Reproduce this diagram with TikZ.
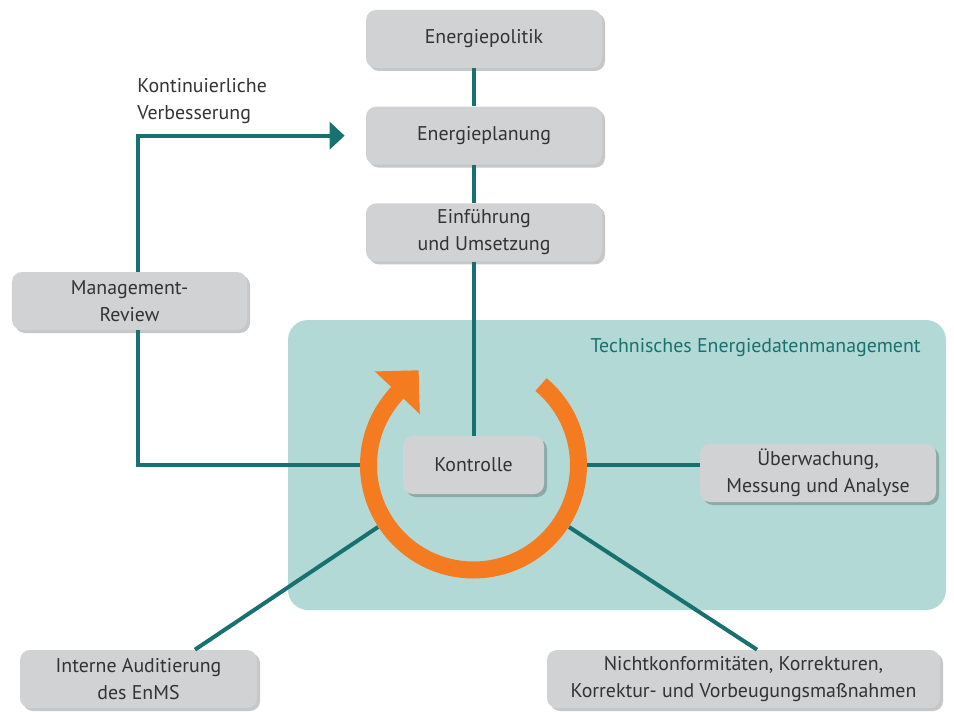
\documentclass[tikz,border=0pt]{standalone}
\usepackage{fontspec}
\setmainfont{PT Sans}
\usepackage{tikz}
\usetikzlibrary{arrows.meta}
\usetikzlibrary{positioning,shadows}

\definecolor{boxgray}{HTML}{D1D2D4}
\definecolor{enteal}{HTML}{17726F}
\definecolor{bgteal}{HTML}{B3D9D6}
\definecolor{ringorange}{HTML}{F47B20}
\definecolor{txtgray}{HTML}{333333}

\begin{document}
\begin{tikzpicture}[
		node distance=0.76cm,
		font=\fontsize{11.3}{15.3}\selectfont,
		text=txtgray,
		Box/.style = {rectangle, rounded corners=0.2cm, fill=boxgray,% grey boxes with soft shadow
			minimum width=4.72cm, minimum height=1.16cm,
			align=center, inner sep=2pt,
			drop shadow={shadow xshift=0.06cm, shadow yshift=-0.06cm,
				fill=black, opacity=0.22}},
		L/.style = {draw=enteal, line width=0.08cm},% teal connectors
		R/.style = {draw=ringorange, line width=0.34cm,
			-{Triangle[length=0.62cm, width=1.2cm]}},
		]
		\useasboundingbox (0,0) rectangle (19.08,14.22);
		% technical area
		\fill[bgteal, rounded corners=0.4cm] (5.76,2.02) rectangle (18.92,7.82);
		\node (tem) [anchor=east, text=enteal, inner sep=0pt] at (18.42,7.26) {Technisches Energiedatenmanagement};
		% boxes
		\node (pol) [Box] at (9.68,13.44) {Energiepolitik};
		\node (plan) [Box, below=of pol] {Energieplanung};
		\node (einf) [Box, below=of plan] {Einführung\\und Umsetzung};
		\node (review) [Box, minimum width=4.7cm] at (2.59,8.20) {Management-\\Review};
		\node (kontr) [Box, minimum width=2.82cm] at (9.47,4.92) {Kontrolle};
		\node (ueber) [Box] at (16.36,4.76) {Überwachung,\\Messung und Analyse};
		\node (audit) [Box, minimum width=4.74cm] at (2.77,0.64) {Interne Auditierung\\des EnMS};
		\node (nicht) [Box, minimum width=7.86cm] at (14.87,0.64) {Nichtkonformitäten, Korrekturen,\\Korrektur- und Vorbeugungsmaßnahmen};
		\node (verb) [anchor=west, align=left, inner sep=0pt] at (2.74,12.2) {Kontinuierliche\\Verbesserung};
		\node (ring) [circle, minimum size=4.54cm, inner sep=0pt] at (kontr.center) {};
		% connectors
		\draw[L] (pol.south -| kontr) -- (plan.north -| kontr);
		\draw[L] (plan.south -| kontr) -- (einf.north -| kontr);
		\draw[L] (einf.south -| kontr) -- (kontr.north);
		\draw[L] (ring.west) -| ([xshift=0.17cm]review.south);
		\draw[L, -{Triangle[length=0.3cm, width=0.54cm]}, shorten >=0.42cm]
			([xshift=0.17cm]review.north) |- (plan.west);
		\draw[L] (ring.east) -- (ring.east -| ueber.west);
		\draw[L] (ring.213) -- ([xshift=1.13cm]audit.north);
		\draw[L] (ring.-33) -- ([xshift=0.27cm]nicht.north);
		% orange cycle
		\draw[R, shorten >=-0.62cm] ([shift={(50:2.1)}]ring.center)
			arc[start angle=50, end angle=-223.5, radius=2.1];
	\end{tikzpicture}
\end{document}
